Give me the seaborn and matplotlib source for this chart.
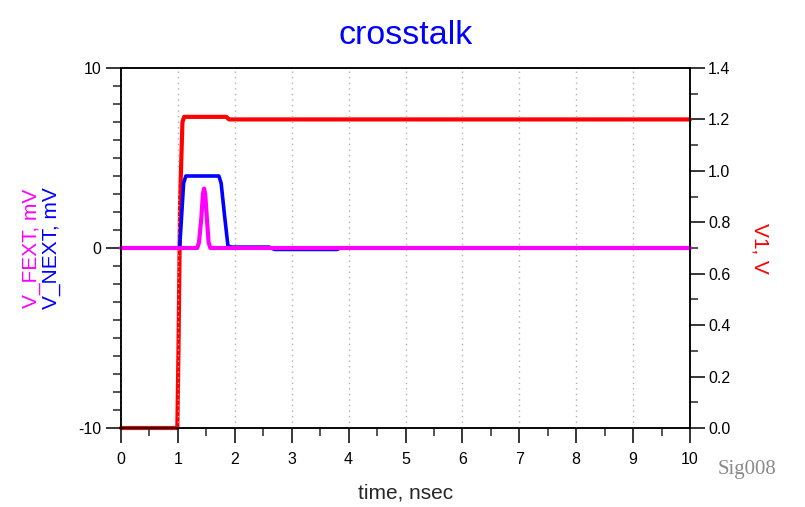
import seaborn as sns
import matplotlib.pyplot as plt
import pandas as pd
from matplotlib.ticker import MultipleLocator, FormatStrFormatter

sns.set_style('ticks')
plt.rcParams['font.family'] = ['Liberation Sans', 'DejaVu Sans']
plt.rcParams['axes.unicode_minus'] = False

# V1 (right axis, V)
t_v1 = [0, 0.99, 1.01, 1.04, 1.08, 1.11, 1.85, 1.9, 10]
v1 = [0, 0, 0.30, 0.90, 1.19, 1.21, 1.21, 1.20, 1.20]

# V_NEXT (left axis, mV)
t_next = [0, 1.03, 1.06, 1.10, 1.14, 1.72, 1.76, 1.82, 1.88, 1.95, 2.6, 2.7, 3.8, 3.85, 10]
v_next = [0, 0, 1.5, 3.6, 4.0, 4.0, 3.6, 1.8, 0.1, 0.05, 0.05, -0.08, -0.08, 0, 0]

# V_FEXT (left axis, mV)
t_fext = [0, 1.34, 1.37, 1.41, 1.44, 1.46, 1.48, 1.51, 1.54, 1.57, 10]
v_fext = [0, 0, 0.3, 1.6, 3.0, 3.3, 3.0, 1.6, 0.3, 0, 0]

df_v1 = pd.DataFrame({'time': t_v1, 'V1': v1})
df_next = pd.DataFrame({'time': t_next, 'V_NEXT': v_next})
df_fext = pd.DataFrame({'time': t_fext, 'V_FEXT': v_fext})

fig = plt.figure(figsize=(8.05, 5.07), dpi=100)
ax = fig.add_axes([121 / 805, 79 / 507, 569 / 805, 360 / 507])
ax2 = ax.twinx()

# right axis: V1
sns.lineplot(data=df_v1, x='time', y='V1', ax=ax2, color='#ff0000', lw=3.0,
             sort=False, clip_on=False)
ax2.set_ylim(0, 1.4)
ax2.yaxis.set_major_locator(MultipleLocator(0.2))
ax2.yaxis.set_minor_locator(MultipleLocator(0.1))
ax2.yaxis.set_major_formatter(FormatStrFormatter('%.1f'))
ax2.set_ylabel('V1, V', color='#ff0000', fontsize=15, rotation=270, labelpad=28)

# left axis: crosstalk voltages (drawn above V1)
ax.set_zorder(ax2.get_zorder() + 1)
ax.patch.set_visible(False)
sns.lineplot(data=df_next, x='time', y='V_NEXT', ax=ax, color='#0000ff', lw=2.6,
             sort=False, clip_on=False)
sns.lineplot(data=df_fext, x='time', y='V_FEXT', ax=ax, color='#ff00ff', lw=3.0,
             sort=False, clip_on=False)
ax.set_xlim(0, 10)
ax.set_ylim(-10, 10)
ax.xaxis.set_major_locator(MultipleLocator(1))
ax.xaxis.set_minor_locator(MultipleLocator(0.5))
ax.yaxis.set_major_locator(MultipleLocator(10))
ax.yaxis.set_minor_locator(MultipleLocator(1))
ax.grid(axis='x', which='major', color='#b0b0b0', ls=(0, (1, 3)), lw=1.0)
ax.set_ylabel('')
ax.set_xlabel('time, nsec', fontsize=15, labelpad=12)
ax.set_title('crosstalk', color='#0000ff', fontsize=24.5, pad=17)

ax.text(-0.157, 0.5, 'V_FEXT, mV', transform=ax.transAxes, rotation=90,
        color='#ff00ff', fontsize=15, ha='center', va='center')
ax.text(-0.122, 0.5, 'V_NEXT, mV', transform=ax.transAxes, rotation=90,
        color='#0000ff', fontsize=15, ha='center', va='center')

for a in (ax, ax2):
    for s in a.spines.values():
        s.set_visible(True)
        s.set_color('black')
        s.set_linewidth(1.1)
    a.tick_params(which='major', direction='out', length=11, width=1.1,
                  labelsize=11.5, colors='black')
    a.tick_params(which='minor', direction='out', length=5.5, width=1.1)
ax.tick_params(axis='y', which='major', pad=3)
ax.tick_params(axis='x', which='major', pad=6)
ax2.tick_params(axis='y', which='major', pad=2)

# watermark
fig.text(0.892, 0.074, 'Sig008', color='#8a8a8a', fontsize=15,
         family=['Liberation Serif', 'DejaVu Serif'], ha='left', va='center')

fig.savefig('out.png', dpi=100)
